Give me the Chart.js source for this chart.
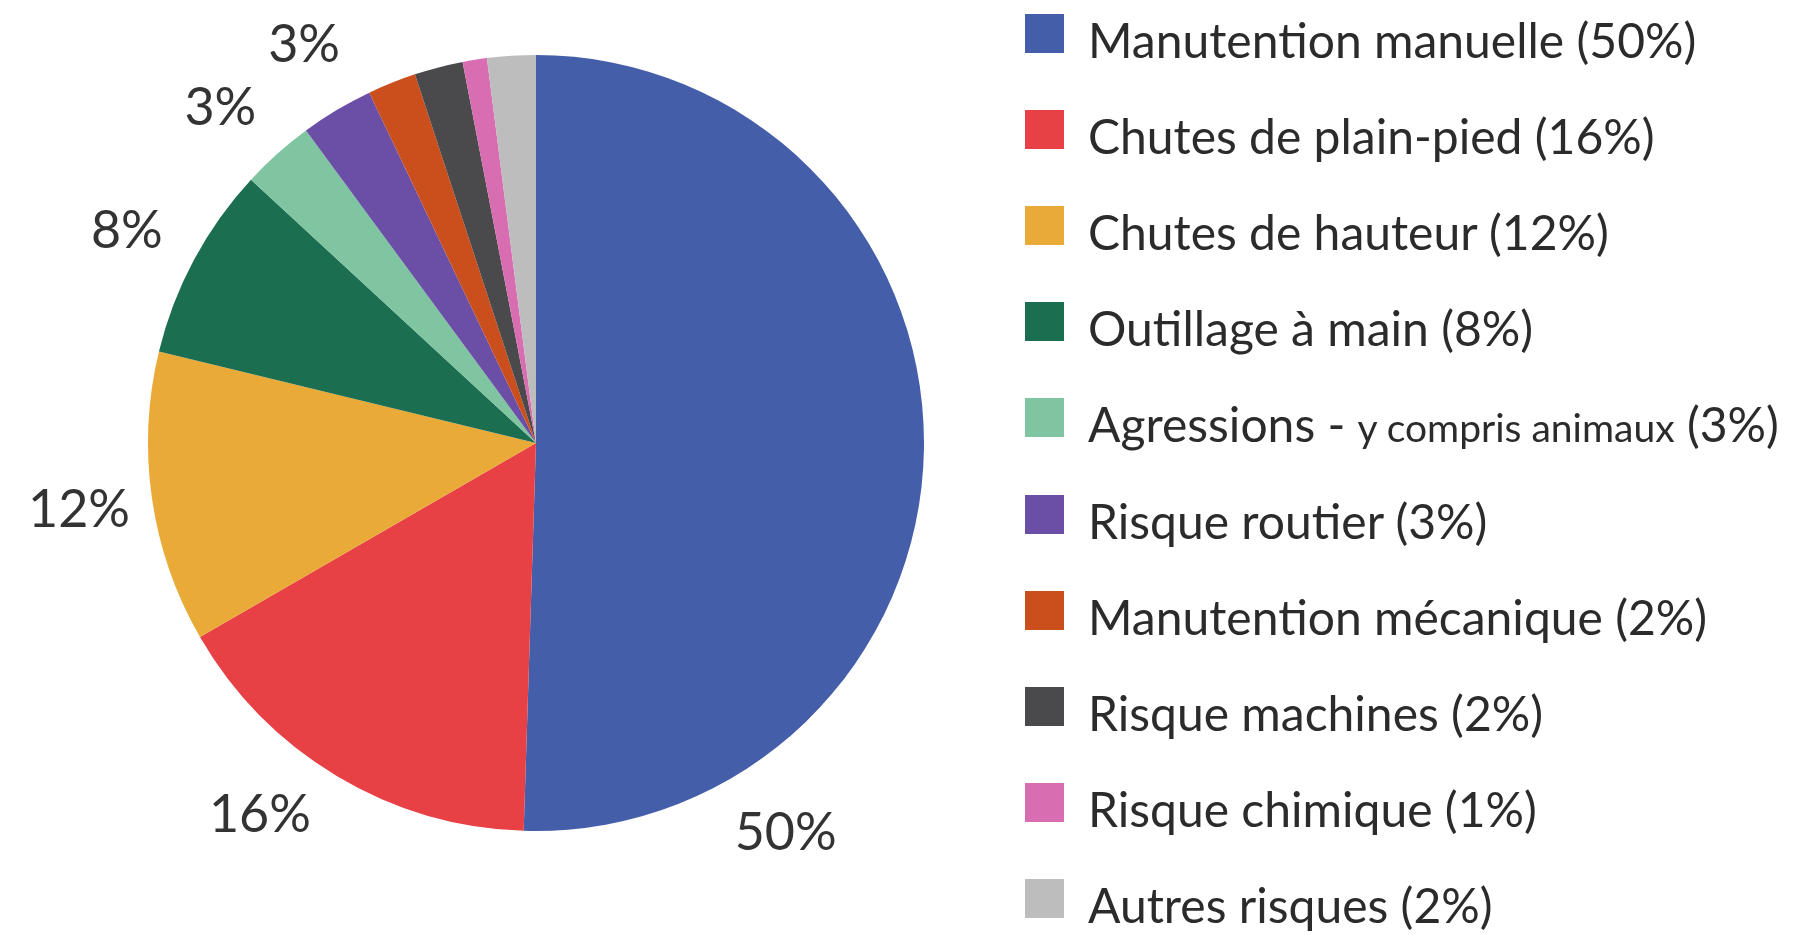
<!DOCTYPE html>
<html lang="fr">
<head>
<meta charset="utf-8">
<title>Répartition des risques</title>
<script src="https://cdn.jsdelivr.net/npm/chart.js@4"></script>
<style>
  body { margin: 0; background: #fff; }
  #wrap { position: relative; width: 1814px; height: 935px; overflow: hidden; }
  #legend { position: absolute; left: 1025px; top: -9px; font-family: Lato, sans-serif; color: #2b2b2b; }
  .row { display: flex; align-items: center; height: 96.2px; font-size: 48px; white-space: nowrap; }
  .box { width: 39px; height: 39px; margin-right: 24px; margin-top: -12px; flex: none; }
  .small { font-size: 39px; }
</style>
</head>
<body>
<div id="wrap">
  <canvas id="myChart" width="1814" height="935"></canvas>
  <div id="legend"></div>
</div>
<script>
const labels = [
  "Manutention manuelle",
  "Chutes de plain-pied",
  "Chutes de hauteur",
  "Outillage à main",
  "Agressions - y compris animaux",
  "Risque routier",
  "Manutention mécanique",
  "Risque machines",
  "Risque chimique",
  "Autres risques"
];
const values = [50, 16, 12, 8, 3, 3, 2, 2, 1, 2];
const colors = [
  "#455ea9", "#e74145", "#e9aa38", "#1c6e51", "#80c5a2",
  "#6b4ea5", "#cb4f1d", "#4a4a4c", "#d96db1", "#bdbdbd"
];

// percent labels outside the pie, placed along each slice
const outsideLabels = {
  id: "outsideLabels",
  afterDatasetsDraw(chart, args, opts) {
    const ctx = chart.ctx;
    const meta = chart.getDatasetMeta(0);
    const data = chart.data.datasets[0].data;
    ctx.save();
    ctx.font = opts.font;
    ctx.fillStyle = opts.color;
    ctx.textAlign = "center";
    ctx.textBaseline = "middle";
    meta.data.forEach((arc, i) => {
      if (data[i] < opts.minValue) return;
      const p = arc.getProps(["x", "y", "startAngle", "endAngle", "outerRadius"], true);
      const f = opts.anchor[i] !== undefined ? opts.anchor[i] : 0.5;
      const a = p.startAngle + f * (p.endAngle - p.startAngle);
      const r = p.outerRadius * opts.distance;
      ctx.fillText(data[i] + "%", p.x + Math.cos(a) * r, p.y + Math.sin(a) * r + opts.dy);
    });
    ctx.restore();
  }
};

const config = {
  type: "pie",
  data: {
    labels: labels,
    datasets: [{
      data: values,
      backgroundColor: colors,
      borderWidth: 0
    }]
  },
  options: {
    responsive: false,
    animation: false,
    layout: { padding: { left: 148, right: 890, top: 55, bottom: 104 } },
    plugins: {
      legend: { display: false },
      tooltip: { enabled: false },
      outsideLabels: {
        font: "400 52px Lato, sans-serif",
        color: "#333",
        minValue: 3,
        distance: 1.19,
        dy: 2,
        anchor: [0.81, 0.6, 0.5, 0.48, 0.38, 0.57]
      }
    }
  },
  plugins: [outsideLabels]
};

const myChart = new Chart(document.getElementById("myChart"), config);

// html legend built from the chart's own legend items
const legendEl = document.getElementById("legend");
const items = myChart.options.plugins.legend.labels.generateLabels(myChart);
items.forEach((item) => {
  const row = document.createElement("div");
  row.className = "row";
  const box = document.createElement("span");
  box.className = "box";
  box.style.background = item.fillStyle;
  row.appendChild(box);
  const txt = document.createElement("span");
  const parts = item.text.split(" - ");
  txt.appendChild(document.createTextNode(parts[0]));
  if (parts[1]) {
    txt.appendChild(document.createTextNode(" - "));
    const sm = document.createElement("span");
    sm.className = "small";
    sm.textContent = parts[1];
    txt.appendChild(sm);
  }
  txt.appendChild(document.createTextNode(" (" + values[item.index] + "%)"));
  row.appendChild(txt);
  legendEl.appendChild(row);
});
</script>
</body>
</html>
